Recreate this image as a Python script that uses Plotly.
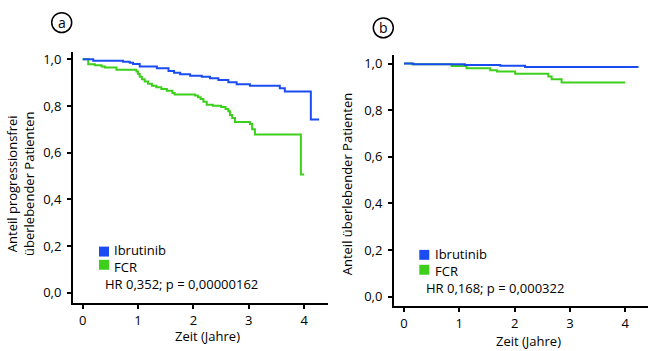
import plotly.graph_objects as go

# ---- data ----
# Panel a: progression-free survival
a_ibr_t = [0, 0.19, 0.73, 0.85, 0.91, 1.03, 1.34, 1.55, 1.65, 1.76, 1.94, 2.15, 2.30, 2.45, 2.63, 2.78, 3.02, 3.56, 3.65, 4.12]
a_ibr_s = [1.0, 0.994, 0.990, 0.986, 0.980, 0.969, 0.962, 0.950, 0.943, 0.936, 0.930, 0.925, 0.919, 0.912, 0.902, 0.893, 0.887, 0.876, 0.862, 0.742]
a_ibr_end = 4.27
a_fcr_t = [0, 0.10, 0.22, 0.34, 0.40, 0.61, 0.97, 1.00, 1.03, 1.07, 1.12, 1.18, 1.25, 1.33, 1.42, 1.52, 1.62, 1.66, 2.03, 2.08, 2.13, 2.18, 2.24, 2.35, 2.50, 2.58, 2.63, 2.66, 2.70, 2.75, 3.02, 3.06, 3.11, 3.94]
a_fcr_s = [1.0, 0.979, 0.975, 0.969, 0.965, 0.955, 0.948, 0.937, 0.926, 0.915, 0.905, 0.895, 0.887, 0.880, 0.873, 0.866, 0.856, 0.849, 0.845, 0.838, 0.830, 0.818, 0.806, 0.801, 0.796, 0.787, 0.778, 0.762, 0.749, 0.731, 0.723, 0.700, 0.678, 0.507]
a_fcr_end = 4.0

# Panel b: overall survival
b_ibr_t = [0, 0.17, 1.10, 1.74, 2.19]
b_ibr_s = [1.0, 0.997, 0.994, 0.991, 0.986]
b_ibr_end = 4.24
b_fcr_t = [0, 0.14, 0.86, 1.13, 1.56, 1.68, 2.01, 2.61, 2.67, 2.85]
b_fcr_s = [1.0, 0.997, 0.990, 0.980, 0.972, 0.966, 0.957, 0.945, 0.933, 0.919]
b_fcr_end = 4.0

x_ticks = [0, 1, 2, 3, 4]
y_ticks = [0.0, 0.2, 0.4, 0.6, 0.8, 1.0]
y_ticklabels = ["0,0", "0,2", "0,4", "0,6", "0,8", "1,0"]
series_names = ["Ibrutinib", "FCR"]
hr_texts = ["HR 0,352; p = 0,00000162", "HR 0,168; p = 0,000322"]
panel_labels = ["a", "b"]
y_titles = ["Anteil progressionsfrei<br>überlebender Patienten", "Anteil überlebender Patienten"]
x_title = "Zeit (Jahre)"

BLUE = "#1b4cf2"
GREEN = "#3dcf1c"
FONT = "Open Sans"
W, H = 660, 351

def km(t, s, end):
    xs = list(t) + [end]
    ys = list(s) + [s[-1]]
    return xs, ys

fig = go.Figure()

panels = [
    dict(xa="x", ya="y", series=[(a_ibr_t, a_ibr_s, a_ibr_end, BLUE), (a_fcr_t, a_fcr_s, a_fcr_end, GREEN)]),
    dict(xa="x2", ya="y2", series=[(b_ibr_t, b_ibr_s, b_ibr_end, BLUE), (b_fcr_t, b_fcr_s, b_fcr_end, GREEN)]),
]
for p in panels:
    for (t, s, end, col) in reversed(p["series"]):
        xs, ys = km(t, s, end)
        fig.add_trace(go.Scatter(x=xs, y=ys, mode="lines", line=dict(color=col, width=2, shape="hv"),
                                 xaxis=p["xa"], yaxis=p["ya"], showlegend=False, hoverinfo="skip"))

axis_common = dict(showgrid=False, zeroline=False, showline=True, linecolor="black", linewidth=2,
                   ticks="outside", ticklen=4, tickwidth=1.5, tickcolor="black",
                   tickfont=dict(family=FONT, size=13, color="black"))

def px2x(px):
    return px / W

def py2y(py):
    return 1 - py / H

fig.update_layout(
    width=W, height=H, margin=dict(l=0, r=0, t=0, b=0),
    paper_bgcolor="white", plot_bgcolor="white",
    showlegend=False,
    xaxis=dict(domain=[px2x(73), px2x(328)], range=[-0.175, 4.43], tickvals=x_ticks, anchor="y", **axis_common),
    yaxis=dict(domain=[py2y(302.7), py2y(50)], range=[-0.0443, 1.0328], tickvals=y_ticks, ticktext=y_ticklabels,
               anchor="x", ticklabelstandoff=3, **axis_common),
    xaxis2=dict(domain=[px2x(394), px2x(648.3)], range=[-0.181, 4.418], tickvals=x_ticks, anchor="y2", **axis_common),
    yaxis2=dict(domain=[py2y(306), py2y(53.3)], range=[-0.0414, 1.037], tickvals=y_ticks, ticktext=y_ticklabels,
                anchor="x2", ticklabelstandoff=3, **axis_common),
)

annotations = []
shapes = []
tf = dict(family=FONT, size=13, color="black")

# axis titles
annotations.append(dict(x=px2x(208), y=py2y(335.7), xref="paper", yref="paper", text=x_title, showarrow=False, font=tf, xanchor="center", yanchor="middle"))
annotations.append(dict(x=px2x(528.7), y=py2y(340.7), xref="paper", yref="paper", text=x_title, showarrow=False, font=tf, xanchor="center", yanchor="middle"))
annotations.append(dict(x=px2x(21), y=py2y(183), xref="paper", yref="paper", text=y_titles[0], showarrow=False, font=tf, textangle=-90, xanchor="center", yanchor="middle"))
annotations.append(dict(x=px2x(347.3), y=py2y(183), xref="paper", yref="paper", text=y_titles[1], showarrow=False, font=tf, textangle=-90, xanchor="center", yanchor="middle"))

# panel labels with circles
for lbl, (cx, cy) in zip(panel_labels, [(61.7, 20.7), (383.3, 26)]):
    r = 10
    shapes.append(dict(type="circle", xref="paper", yref="paper", x0=px2x(cx - r), x1=px2x(cx + r), y0=py2y(cy + r), y1=py2y(cy - r), line=dict(color="black", width=1.5)))
    annotations.append(dict(x=px2x(cx), y=py2y(cy - 0.5), xref="paper", yref="paper", text=lbl, showarrow=False, font=dict(family=FONT, size=14, color="black"), xanchor="center", yanchor="middle"))

# legends (squares + one two-line text block + HR line)
legend_pos = [
    dict(sq_x=99, sq1_y=246, sq2_y=259.3, tx=112, t_mid=258.2, hr_x=103.3, hr_y=283.5),
    dict(sq_x=419.3, sq1_y=249.3, sq2_y=264.3, tx=432.7, t_mid=262.3, hr_x=424, hr_y=287.5),
]
for i, lp in enumerate(legend_pos):
    for col, sy in [(BLUE, lp["sq1_y"]), (GREEN, lp["sq2_y"])]:
        shapes.append(dict(type="rect", xref="paper", yref="paper", x0=px2x(lp["sq_x"]), x1=px2x(lp["sq_x"] + 10),
                           y0=py2y(sy + 10), y1=py2y(sy), fillcolor=col, line=dict(width=0)))
    annotations.append(dict(x=px2x(lp["tx"]), y=py2y(lp["t_mid"]), xref="paper", yref="paper",
                            text="<br>".join(series_names), showarrow=False, font=tf, align="left",
                            xanchor="left", yanchor="middle"))
    annotations.append(dict(x=px2x(lp["hr_x"]), y=py2y(lp["hr_y"]), xref="paper", yref="paper", text=hr_texts[i],
                            showarrow=False, font=tf, xanchor="left", yanchor="middle"))

fig.update_layout(annotations=annotations, shapes=shapes)
fig.write_html("out.html")
